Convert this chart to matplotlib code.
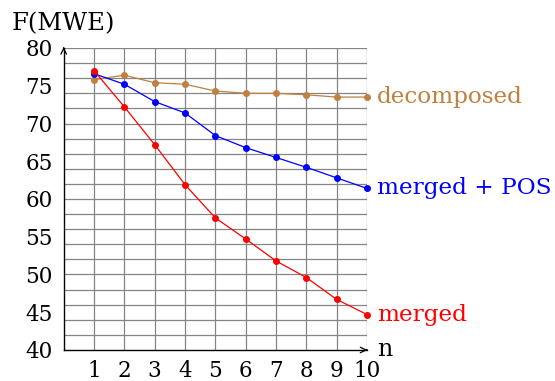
import matplotlib.pyplot as plt
import numpy as np

# data
n = [1, 2, 3, 4, 5, 6, 7, 8, 9, 10]
decomposed = [75.8, 76.4, 75.4, 75.2, 74.3, 74.0, 74.0, 73.8, 73.5, 73.5]
merged_pos = [76.6, 75.2, 72.9, 71.4, 68.4, 66.8, 65.5, 64.2, 62.8, 61.4]
merged = [77.0, 72.2, 67.2, 61.9, 57.5, 54.7, 51.8, 49.6, 46.7, 44.7]

series = [
    ('decomposed', decomposed, '#BF8040'),
    ('merged + POS', merged_pos, '#0000FF'),
    ('merged', merged, '#FF0000'),
]

plt.rcParams['font.family'] = 'DejaVu Serif'
fs = 15.5

fig = plt.figure(figsize=(5.55, 3.81), dpi=100)
ax = fig.add_axes([63.7 / 555, 1 - 350 / 381, (367 - 63.7) / 555, (350 - 48) / 381])

ax.set_xlim(0, 10)
ax.set_ylim(40, 80)

# grid
for x in n:
    ax.axvline(x, color='#858585', lw=0.9, zorder=0)
for y in np.arange(42, 81, 2):
    ax.axhline(y, color='#858585', lw=0.9, zorder=0)

for label, vals, color in series:
    ax.plot(n, vals, color=color, lw=0.9, marker='o', markersize=4, clip_on=False, zorder=3)
    ax.annotate(label, xy=(n[-1], vals[-1]), xytext=(7, 0), textcoords='offset points',
                color=color, fontsize=16.7, va='center', ha='left')

ax.set_xticks(n)
ax.set_yticks(np.arange(40, 81, 5))
ax.tick_params(length=0, labelsize=fs)
ax.tick_params(axis='y', pad=8)
ax.tick_params(axis='x', pad=7)

for s in ['top', 'right']:
    ax.spines[s].set_visible(False)
for s in ['left', 'bottom']:
    ax.spines[s].set_linewidth(1.0)

# axis arrows
ax.annotate('', xy=(0, 1.012), xytext=(0, 0.99), xycoords='axes fraction',
            arrowprops=dict(arrowstyle='->', lw=0.9, color='black'))
ax.annotate('', xy=(1.01, 0), xytext=(0.99, 0), xycoords='axes fraction',
            arrowprops=dict(arrowstyle='->', lw=0.9, color='black'))

ax.annotate('F(MWE)', xy=(0, 1), xycoords='axes fraction', xytext=(0, 9),
            textcoords='offset points', ha='center', va='bottom', fontsize=17.5)
ax.annotate('n', xy=(1, 0), xycoords='axes fraction', xytext=(7, 0),
            textcoords='offset points', ha='left', va='center', fontsize=17)

fig.savefig('out.png', dpi=100)
